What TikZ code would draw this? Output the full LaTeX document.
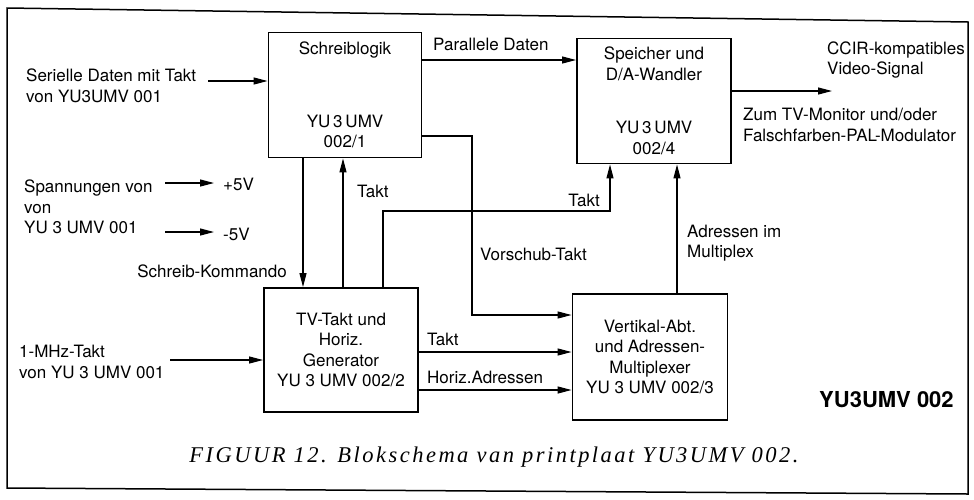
\documentclass[tikz,border=0pt]{standalone}
\usepackage{fontspec}
\setmainfont{TeX Gyre Heros}
\newfontfamily\capfont[LetterSpace=11]{Liberation Serif}
\usetikzlibrary{arrows.meta}
\tikzset{
  block/.style={draw,line width=1.9pt,align=center,inner sep=0pt,font=\fontsize{17}{20.5}\selectfont},
  sig/.style={line width=1.2pt,-{Triangle[length=14pt,width=7pt]}},
  wire/.style={line width=1.2pt},
  txt/.style={align=left,inner sep=0pt,font=\fontsize{17}{20.5}\selectfont}
}
\begin{document}
\begin{tikzpicture}[x=1pt,y=-1pt]
\useasboundingbox (0,0) rectangle (974,499);
\draw[line width=1.5pt] (7,8) -- (968,22) -- (968,494) -- (7,488) -- cycle;
\node[block,minimum width=153pt,minimum height=125pt] (sl) at (345,95) {Schreiblogik\\[52pt]YU\,3\,UMV\\002/1};
\node[block,minimum width=154pt,minimum height=125pt] (sp) at (654,101) {Speicher und\\D/A-Wandler\\[33pt]YU\,3\,UMV\\002/4};
\node[block,minimum width=154pt,minimum height=124pt] (tv) at (341,350) {TV-Takt und\\Horiz.\\Generator\\YU 3 UMV 002/2};
\node[block,minimum width=155pt,minimum height=126pt] (va) at (650,357) {Vertikal-Abt.\\und Adressen-\\Multiplexer\\YU 3 UMV 002/3};
\node[txt,anchor=west] (ser) at (26,86) {Serielle Daten mit Takt\\von YU3UMV 001};
\node[txt,anchor=west] (par) at (433,44) {Parallele Daten};
\node[txt,anchor=west] (spg) at (24,207) {Spannungen von\\von\\YU 3 UMV 001};
\node[txt,anchor=west] (p5) at (223,184) {+5V};
\node[txt,anchor=west] (m5) at (223,234) {-5V};
\node[txt,anchor=west] (tk1) at (357,191) {Takt};
\node[txt,anchor=east] (sk) at (287,271) {Schreib-Kommando};
\node[txt,anchor=west] (vt) at (480,254) {Vorschub-Takt};
\node[txt,anchor=east] (tk2) at (600,200) {Takt};
\node[txt,anchor=west] (adr) at (687,243) {Adressen im\\Multiplex};
\node[txt,anchor=west] (ccir) at (827,60) {CCIR-kompatibles\\Video-Signal};
\node[txt,anchor=west] (zum) at (743,125) {Zum TV-Monitor und/oder\\Falschfarben-PAL-Modulator};
\node[txt,anchor=west] (mhz) at (19,362) {1-MHz-Takt\\von YU 3 UMV 001};
\node[txt,anchor=west] (tk3) at (427,339) {Takt};
\node[txt,anchor=west] (hor) at (427,377) {Horiz.Adressen};
\node[inner sep=0pt,anchor=west,font=\fontsize{22}{26}\selectfont\bfseries] (nr) at (819,400) {YU3UMV 002};
\node[inner sep=0pt,font=\capfont\itshape\fontsize{22.5}{26}\selectfont] (cap) at (494,457) {FIGUUR 12. Blokschema van printplaat YU3UMV 002.};
\coordinate (serin) at (208,81);
\coordinate (parout) at (0,60);
\coordinate (vs1) at (472,136);
\coordinate (vs2) at (472,315);
\coordinate (sk1) at (303,0);
\coordinate (tk1x) at (343,0);
\coordinate (tk2a) at (383,211);
\coordinate (tk2b) at (610,211);
\coordinate (adrx) at (677,0);
\coordinate (vid) at (832,91);
\coordinate (p5in) at (165,183);
\coordinate (p5out) at (214,183);
\coordinate (m5in) at (165,232);
\coordinate (m5out) at (214,232);
\coordinate (mhzin) at (170,360);
\coordinate (tk3y) at (0,352);
\coordinate (hory) at (0,390);
\draw[sig] (serin) -- (serin -| sl.west);
\draw[sig] (sl.east |- parout) -- (sp.west |- parout);
\draw[sig] (sl.east |- vs1) -- (vs1) -- (vs2) -- (va.west |- vs2);
\draw[sig] (sl.south -| sk1) -- (tv.north -| sk1);
\draw[sig] (tv.north -| tk1x) -- (sl.south -| tk1x);
\draw[sig] (tv.north -| tk2a) -- (tk2a) -- (tk2b) -- (sp.south -| tk2b);
\draw[sig] (va.north -| adrx) -- (sp.south -| adrx);
\draw[sig] (sp.east |- vid) -- (vid);
\draw[sig] (p5in) -- (p5out);
\draw[sig] (m5in) -- (m5out);
\draw[sig] (mhzin) -- (mhzin -| tv.west);
\draw[sig] (tv.east |- tk3y) -- (va.west |- tk3y);
\draw[sig] (tv.east |- hory) -- (va.west |- hory);
\end{tikzpicture}
\end{document}
